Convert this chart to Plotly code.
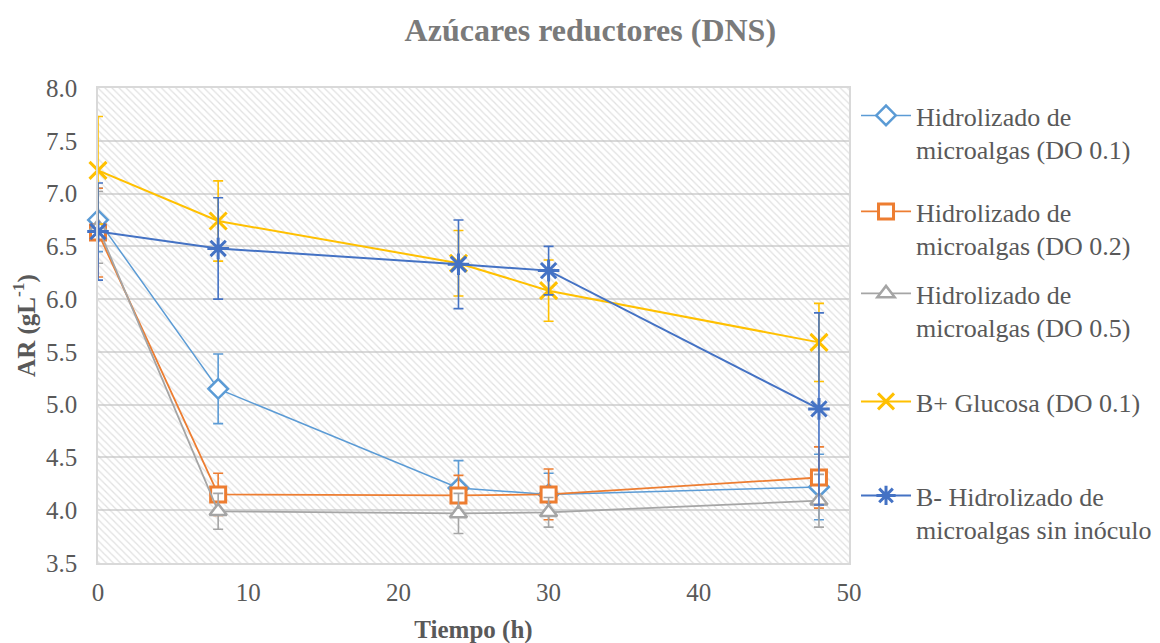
import plotly.graph_objects as go

# ---- data ----
tiempo = [0, 8, 24, 30, 48]

names = [
    "Hidrolizado de<br>microalgas (DO 0.1)",
    "Hidrolizado de<br>microalgas (DO 0.2)",
    "Hidrolizado de<br>microalgas (DO 0.5)",
    "B+ Glucosa (DO 0.1)",
    "B- Hidrolizado de<br>microalgas sin inóculo",
]

do01 = [6.75, 5.15, 4.21, 4.15, 4.22]
do01_err = [0.30, 0.33, 0.26, 0.20, 0.31]

do02 = [6.63, 4.15, 4.14, 4.15, 4.31]
do02_err = [0.42, 0.20, 0.19, 0.24, 0.29]

do05 = [6.68, 3.99, 3.97, 3.98, 4.09]
do05_err = [0.34, 0.17, 0.19, 0.14, 0.25]

glucosa = [7.22, 6.74, 6.34, 6.08, 5.59]
glucosa_err = [0.51, 0.38, 0.31, 0.29, 0.37]

sin_inoculo = [6.64, 6.48, 6.33, 6.27, 4.96]
sin_inoculo_err = [0.46, 0.48, 0.42, 0.23, 0.91]

x_range = [0, 50]
y_range = [3.5, 8.0]
y_ticks = [3.5, 4.0, 4.5, 5.0, 5.5, 6.0, 6.5, 7.0, 7.5, 8.0]
x_ticks = [0, 10, 20, 30, 40, 50]

FONT = "Liberation Serif"
TXT = "#595959"

fig = go.Figure()

# hatched plot-area background
fig.add_trace(go.Scatter(
    x=[x_range[0], x_range[1], x_range[1], x_range[0], x_range[0]],
    y=[y_range[0], y_range[0], y_range[1], y_range[1], y_range[0]],
    mode="none", fill="toself", fillcolor="rgba(0,0,0,0)",
    fillpattern=dict(shape="\\", fgcolor="#c4c4c4", bgcolor="rgba(0,0,0,0)",
                     size=5, solidity=0.25),
    showlegend=False, hoverinfo="skip",
))

series = [
    (do01, do01_err, "#5B9BD5", dict(symbol="diamond", size=15, color="white",
                                      line=dict(color="#5B9BD5", width=2.5)), 1.5),
    (do02, do02_err, "#ED7D31", dict(symbol="square", size=15, color="white",
                                      line=dict(color="#ED7D31", width=3)), 1.8),
    (do05, do05_err, "#A5A5A5", dict(symbol="triangle-up", size=15, color="white",
                                      line=dict(color="#A5A5A5", width=2.5)), 1.8),
    (glucosa, glucosa_err, "#FFC000", dict(symbol="x-thin", size=17,
                                            line=dict(color="#FFC000", width=3)), 2),
    (sin_inoculo, sin_inoculo_err, "#4472C4", dict(symbol="asterisk", size=18,
                                                    line=dict(color="#4472C4", width=3)), 2),
]

legend_ids = ["legend", "legend2", "legend3", "legend4", "legend5"]
legend_y = [0.9916, 0.7895, 0.6168, 0.3895, 0.1916]

for i, (vals, errs, col, mk, lw) in enumerate(series):
    fig.add_trace(go.Scatter(
        x=tiempo, y=vals, name=names[i], mode="lines+markers",
        line=dict(color=col, width=lw), marker=mk,
        error_y=dict(type="data", array=errs, visible=True, color=col,
                     thickness=1.6, width=5),
        legend=legend_ids[i], cliponaxis=False,
    ))

legend_style = dict(x=1.008, xanchor="left", yanchor="top", valign="top",
                    itemwidth=50, font=dict(family=FONT, size=26, color=TXT),
                    bgcolor="rgba(0,0,0,0)")

fig.update_layout(
    width=1160, height=643,
    paper_bgcolor="white", plot_bgcolor="white",
    margin=dict(l=90, r=318, t=80, b=88),
    font=dict(family=FONT, color=TXT, size=25),
    title=dict(text="<b>Azúcares reductores (DNS)</b>", x=0.502, xref="container",
               xanchor="center", y=0.966, yref="container", yanchor="middle",
               font=dict(family=FONT, size=32, color="#7a7a7a")),
    showlegend=True,
)
for lid, ly in zip(legend_ids, legend_y):
    fig.update_layout({lid: dict(y=ly, **legend_style)})

fig.update_xaxes(range=x_range, tickvals=x_ticks, showgrid=False, zeroline=False,
                 showline=True, linecolor="#d9d9d9", linewidth=1.5, mirror=True,
                 ticks="", ticklabelstandoff=6,
                 tickfont=dict(family=FONT, size=25, color=TXT),
                 title=dict(text="<b>Tiempo (h)</b>", standoff=16,
                            font=dict(family=FONT, size=25, color=TXT)))
fig.update_yaxes(range=y_range, tickvals=y_ticks, tickformat=".1f",
                 showgrid=True, gridcolor="#d9d9d9", gridwidth=1.5, zeroline=False,
                 showline=True, linecolor="#d9d9d9", linewidth=1.5, mirror=True,
                 ticks="", ticklabelstandoff=14,
                 tickfont=dict(family=FONT, size=25, color=TXT),
                 title=dict(text="<b>AR (gL<sup>-1</sup>)</b>", standoff=4,
                            font=dict(family=FONT, size=25, color=TXT)))

fig.write_html("out.html")
